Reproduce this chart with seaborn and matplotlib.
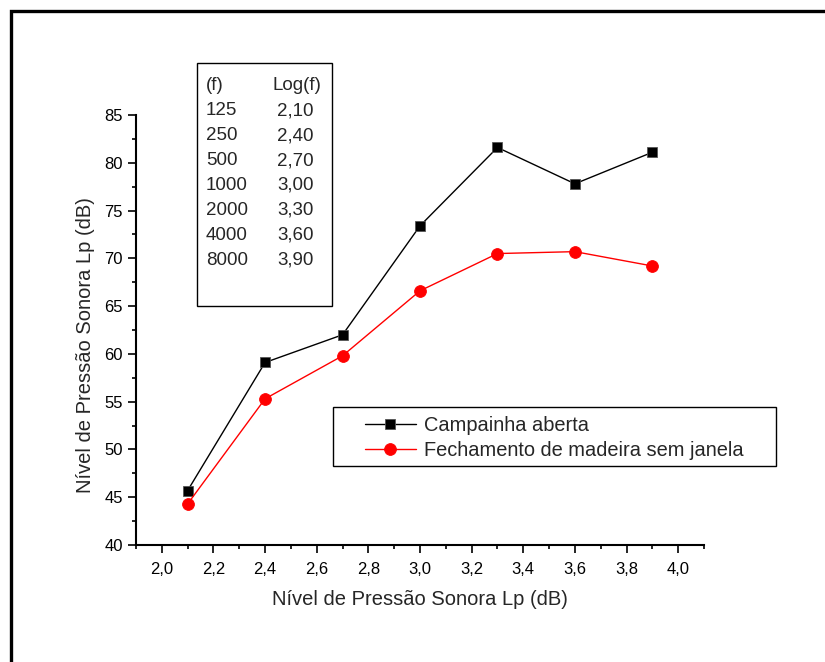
import matplotlib
matplotlib.use("Agg")
import matplotlib.pyplot as plt
import seaborn as sns
import pandas as pd
from matplotlib.ticker import MultipleLocator, FuncFormatter
from matplotlib.patches import Rectangle
from matplotlib.lines import Line2D

sns.set_theme(style="ticks")
plt.rcParams['font.family'] = ['Liberation Sans', 'DejaVu Sans']

log_f = [2.10, 2.40, 2.70, 3.00, 3.30, 3.60, 3.90]
campainha = [45.7, 59.1, 62.0, 73.4, 81.6, 77.8, 81.1]
fechamento = [44.3, 55.3, 59.8, 66.6, 70.5, 70.7, 69.2]
series_names = ["Campainha aberta", "Fechamento de madeira sem janela"]
freq_labels = ["125", "250", "500", "1000", "2000", "4000", "8000"]
log_labels = ["2,10", "2,40", "2,70", "3,00", "3,30", "3,60", "3,90"]

df = pd.DataFrame({"x": log_f * 2,
                   "y": campainha + fechamento,
                   "serie": [series_names[0]] * 7 + [series_names[1]] * 7})

W, H = 825, 662
fig = plt.figure(figsize=(W / 100, H / 100), dpi=100)
ax = fig.add_axes([136/W, 1-545/H, (704-136)/W, (545-115)/H])

sq_kw = dict(marker="s", markersize=7.8, markeredgecolor="#555555", markeredgewidth=0.6)
ci_kw = dict(marker="o", markersize=8.5, markeredgecolor="#ff0000", markeredgewidth=0.6)

sns.lineplot(data=df[df.serie == series_names[0]], x="x", y="y", ax=ax,
             color="black", linewidth=1.0, legend=False, **sq_kw)
sns.lineplot(data=df[df.serie == series_names[1]], x="x", y="y", ax=ax,
             color="#ff0000", linewidth=1.0, legend=False, **ci_kw)

ax.set_xlim(1.9, 4.1)
ax.set_ylim(40, 85)
ax.xaxis.set_major_locator(MultipleLocator(0.2))
ax.xaxis.set_minor_locator(MultipleLocator(0.1))
ax.yaxis.set_major_locator(MultipleLocator(5))
ax.yaxis.set_minor_locator(MultipleLocator(2.5))
ax.xaxis.set_major_formatter(FuncFormatter(lambda v, p: f"{v:.1f}".replace(".", ",")))
ax.yaxis.set_major_formatter(FuncFormatter(lambda v, p: f"{v:.0f}"))
for s in ["top", "right"]:
    ax.spines[s].set_visible(False)
for s in ["left", "bottom"]:
    ax.spines[s].set_linewidth(1.5)
    ax.spines[s].set_color("black")
ax.tick_params(which="major", direction="out", length=6, width=1.2, colors="black",
               labelsize=12)
ax.tick_params(axis="x", which="major", pad=6)
ax.tick_params(axis="y", which="major", pad=3.5)
ax.tick_params(which="minor", direction="out", length=3, width=1.2, colors="black")
ax.set_xlabel("Nível de Pressão Sonora Lp (dB)", fontsize=14.5)
ax.set_ylabel("Nível de Pressão Sonora Lp (dB)", fontsize=14.5)
ax.xaxis.set_label_coords(0.5, (545 - 590) / 430)
ax.yaxis.set_label_coords((95 - 136) / 568, (545 - 345) / 430)

# legend (frame drawn separately)
fig.patches.append(Rectangle((333/W, 1-466/H), (776-333)/W, (466-407)/H,
                             transform=fig.transFigure, fill=False, edgecolor="black",
                             linewidth=1.0))
handles = [Line2D([], [], color="black", linewidth=1.0, **sq_kw),
           Line2D([], [], color="#ff0000", linewidth=1.0, **ci_kw)]
leg = fig.legend(handles, series_names, loc="center",
                 bbox_to_anchor=(554.5/W, 1-438/H), fontsize=14.4,
                 frameon=False, borderpad=0, handlelength=2.55, handletextpad=0.42,
                 labelspacing=0.32, borderaxespad=0)

# frequency table box
fig.patches.append(Rectangle((197/W, 1-306/H), (332-197)/W, (306-63)/H,
                             transform=fig.transFigure, fill=False, edgecolor="black",
                             linewidth=1.0))
fs_t = 13.5
fig.text(206/W, 1-86/H, "(f)", fontsize=fs_t, va="center", ha="left")
fig.text(272/W, 1-86/H, "Log(f)", fontsize=fs_t, va="center", ha="left")
for i, (fl, ll) in enumerate(zip(freq_labels, log_labels)):
    yy = 1 - (110.7 + 24.9 * i) / H
    fig.text(206/W, yy, fl, fontsize=fs_t, va="center", ha="left")
    fig.text(277/W, yy, ll, fontsize=fs_t, va="center", ha="left")

# outer border
fig.patches.append(Rectangle((10.5/W, -0.05), 1.1, 1 - 10.5/H + 0.05,
                             transform=fig.transFigure, fill=False, edgecolor="black",
                             linewidth=2.4))

fig.savefig("out.png", dpi=100)
